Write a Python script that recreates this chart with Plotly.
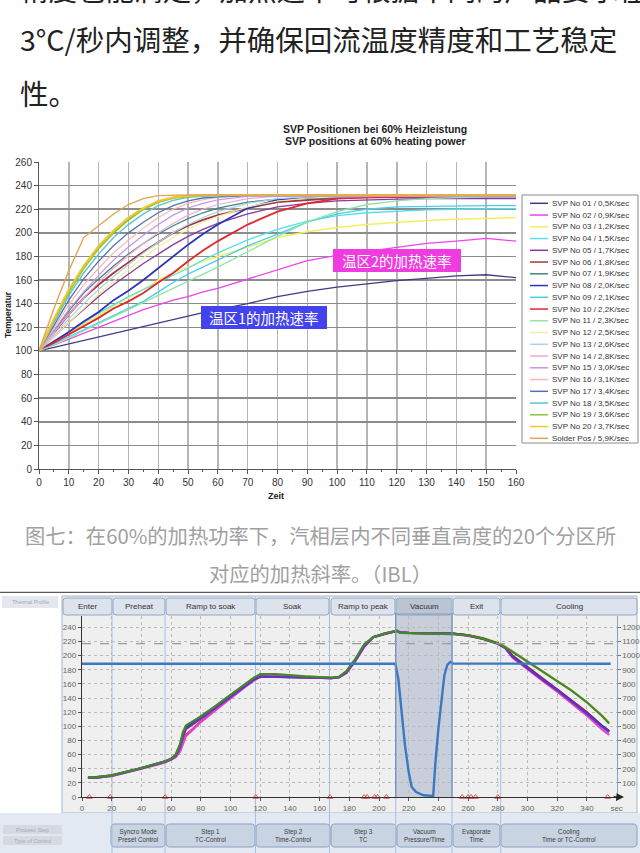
import plotly.graph_objects as go

W, H = 640, 853
def px(x): return x / W
def py(y): return 1 - y / H

# ---------------- top chart data ----------------
t_top = [0, 5, 10, 15, 20, 25, 30, 35, 40, 45, 50, 55, 60, 70, 80, 90, 100, 110, 120, 130, 140, 150, 160]
svp_names = ["SVP No 01 / 0,5K/sec", "SVP No 02 / 0,9K/sec", "SVP No 03 / 1,2K/sec", "SVP No 04 / 1,5K/sec",
             "SVP No 05 / 1,7K/sec", "SVP No 06 / 1,8K/sec", "SVP No 07 / 1,9K/sec", "SVP No 08 / 2,0K/sec",
             "SVP No 09 / 2,1K/sec", "SVP No 10 / 2,2K/sec", "SVP No 11 / 2,3K/sec", "SVP No 12 / 2,5K/sec",
             "SVP No 13 / 2,6K/sec", "SVP No 14 / 2,8K/sec", "SVP No 15 / 3,0K/sec", "SVP No 16 / 3,1K/sec",
             "SVP No 17 / 3,4K/sec", "SVP No 18 / 3,5K/sec", "SVP No 19 / 3,6K/sec", "SVP No 20 / 3,7K/sec",
             "Solder Pos / 5,9K/sec"]
svp_colors = ["#3d3d85", "#ee44ee", "#f2f060", "#55e0e8", "#8a3a9a", "#a33a3a", "#3f8585", "#2f33b8",
              "#49cdf0", "#e0262e", "#8fe6a8", "#f0eea0", "#a9d3f0", "#f2a8d8", "#c793ee", "#f3b9b2",
              "#5272b5", "#5cc6c8", "#93c43a", "#f0c632", "#e2a652"]
svp01 = [100, 103, 106, 109, 111.5, 114.5, 117.5, 121, 124, 127, 130, 132.5, 135, 140, 146, 150.5, 154, 157, 159.5, 161.5, 163.5, 164.5, 162]
svp02 = [100, 105, 110, 115, 120, 125, 130, 135, 139, 143, 146, 150, 153, 161, 169, 176.5, 181, 184.5, 188, 191, 193, 195.3, 193]
svp03 = [100, 108, 115, 123, 130, 138, 145, 152, 160, 166, 171, 176, 180, 188, 196, 201, 204.5, 207, 209, 210.5, 211.5, 212.5, 213]
svp04 = [100, 108, 116, 124, 132, 139, 146, 152, 158, 164, 170, 177, 183, 194, 203, 210, 214.5, 217, 218.5, 219.5, 220, 220.5, 220.5]
svp05 = [100, 112, 124, 135, 146, 156, 165, 174, 182, 190, 197, 203, 208, 216, 222, 225, 227, 228, 228.5, 229, 229, 229, 229]
svp06 = [100, 115, 131, 145, 156, 166, 175, 184, 192, 200, 206, 211, 215, 221, 226, 228, 229.5, 230, 230.5, 231, 231, 231, 231]
svp07 = [100, 117, 134, 149, 161, 172, 182, 191, 199, 206, 212, 217, 221, 226, 228.5, 229.5, 230, 230.5, 231, 231, 231, 231, 231]
svp08 = [100, 108, 116, 125, 133, 143, 151, 160, 170, 180, 190, 199, 207, 221, 228, 230, 230.5, 231, 231, 231, 231, 231, 231]
svp09 = [100, 106, 112, 118, 124, 130, 136, 142, 150, 158, 165, 171, 177, 189, 199, 209, 216, 220, 222, 222.5, 223, 223, 223]
svp10 = [100, 107, 114, 121, 128, 136, 142, 149, 158, 166, 176, 185, 193, 207, 218, 225, 229, 230, 230.5, 231, 231, 231, 231]
svp11 = [100, 105, 111, 117, 123, 129, 135, 141, 147, 153, 159, 165, 171, 184, 197, 209, 218, 224, 227, 229, 230, 230.5, 230.5]
svp12 = [100, 112, 124, 136, 148, 159, 169, 179, 188, 196, 203, 209, 214, 222, 227, 229.5, 230.5, 231, 231, 231, 231, 231, 231]
svp13 = [100, 114, 127, 140, 152, 163, 173, 183, 192, 200, 207, 213, 218, 225, 229, 230.5, 231, 231, 231, 231, 231, 231, 231]
svp14 = [100, 116, 131, 145, 158, 170, 181, 191, 200, 208, 215, 220, 224, 229, 231, 231, 231, 231, 231, 231, 231, 231, 231]
svp15 = [100, 118, 135, 150, 164, 177, 188, 198, 207, 215, 221, 225, 228, 231, 231.5, 231.5, 231.5, 231.5, 231.5, 231.5, 231.5, 231.5, 231.5]
svp16 = [100, 120, 139, 156, 170, 183, 194, 204, 213, 220, 225, 228, 230, 231.5, 231.5, 231.5, 231.5, 231.5, 231.5, 231.5, 231.5, 231.5, 231.5]
svp17 = [100, 122, 143, 161, 176, 189, 200, 209, 217, 223, 227, 229.5, 230.5, 231.5, 231.5, 231.5, 231.5, 231.5, 231.5, 231.5, 231.5, 231.5, 231.5]
svp18 = [100, 124, 147, 166, 182, 196, 207, 216, 223, 227.5, 230, 231, 231.5, 232, 232, 232, 232, 232, 232, 232, 232, 232, 232]
svp19 = [100, 126, 150, 170, 187, 200, 211, 220, 226, 229.5, 231, 232, 232, 232, 232, 232, 232, 232, 232, 232, 232, 232, 232]
svp20 = [100, 127, 152, 172, 189, 202, 213, 221, 227, 230, 231.5, 232, 232, 232, 232, 232, 232, 232, 232, 232, 232, 232, 232]
solder = [100, 136, 168, 196, 206, 216, 224, 229, 231.5, 232, 232, 232, 232, 232, 232, 232, 232, 232, 232, 232, 232, 232, 232]
svp_series = [svp01, svp02, svp03, svp04, svp05, svp06, svp07, svp08, svp09, svp10, svp11,
              svp12, svp13, svp14, svp15, svp16, svp17, svp18, svp19, svp20, solder]
svp_widths = [1.3, 1.3, 1.5, 1.3, 1.3, 1.8, 1.3, 1.8, 1.3, 1.8, 1.3, 1.2, 1.2, 1.2, 1.2, 1.2, 1.3, 1.4, 2.0, 2.0, 1.4]

# ---------------- bottom chart data ----------------
t_bot = [4, 10, 20, 30, 40, 50, 56, 60, 63, 66, 68, 70, 75, 80, 90, 100, 110, 116, 120, 130, 140, 150, 160, 168,
         173, 178, 184, 190, 196, 204, 212, 214, 220, 235, 250, 260, 270, 280, 285, 290, 300, 310, 320, 330, 340, 350, 355]
tc_red = [27, 27.5, 30, 35, 40.5, 46, 49.5, 53, 57, 66, 80, 88, 97, 107, 124, 141, 157, 166, 171, 171.5, 171, 170, 169, 168.5,
          169.5, 176, 193, 213, 226, 231, 235, 233, 232, 231.5, 231, 228.5, 224, 217, 211.5, 200, 184, 168, 153, 137, 120, 101, 93]
tc_yellow = [27, 28, 30.5, 35, 40.5, 46.5, 50, 53.5, 59, 72, 88, 99, 106, 113, 128, 144, 159, 168, 173, 173.5, 172, 170.5, 169.5, 169,
             170, 176, 192, 213, 226, 231.5, 235, 232.5, 232, 231.5, 231, 229, 225, 218, 213, 206, 193, 178, 164.5, 150, 134, 116, 105]
tc_navy = [27.5, 28, 30.5, 35.5, 41, 47, 50.5, 54, 59, 73, 89, 99, 106, 113, 128, 144, 159, 167, 170.5, 170, 169.5, 169, 168.5, 168,
           169.5, 177, 194, 214, 226, 231.5, 235, 233, 232, 231.5, 231, 228.5, 224, 217, 211, 199, 182.5, 167, 152, 135.5, 119, 101, 93]
tc_magenta = [27, 27.5, 29.5, 34.5, 40, 45.5, 49, 52.5, 56, 64, 76, 86, 96, 106, 123, 140, 156, 165, 170, 170.5, 170, 169, 168.5, 168,
              169, 175, 192, 212, 225.5, 231, 234.5, 233, 232, 231.5, 230.5, 228, 223.5, 216.5, 210.5, 197, 180.5, 164.5, 149, 132, 115, 96, 88]
tc_purple = [27, 27.5, 30, 35, 40.5, 46.5, 50, 53.5, 58, 70, 85, 96, 104, 111, 126, 142, 157, 166, 170, 170, 169.5, 169, 168.5, 168,
             169.5, 176, 193, 213, 226, 231, 235, 233, 232, 231.5, 231, 228.5, 224, 217, 211, 198, 181.5, 166, 151, 134.5, 118, 100, 92]
tc_green = [27.5, 28, 30.5, 35.5, 41, 47, 50.5, 54, 60, 75, 92, 101, 107, 114, 129, 145, 160, 169, 174, 174, 172, 170.5, 169.5, 169,
            170, 178, 195, 216, 226, 231, 235.5, 232, 231.5, 231, 230.5, 228.5, 224, 217, 212, 205, 191, 177, 164, 150, 134, 115, 104]
tc_series = [tc_red, tc_yellow, tc_navy, tc_magenta, tc_purple, tc_green]
tc_colors = ["#e33a3a", "#e9bb45", "#263c80", "#e046c8", "#6a30c2", "#3f8a2a"]

t_press = [0, 211, 213, 215, 217.5, 220, 222, 225, 230, 236.5, 238, 240, 242, 244, 246, 248, 250, 356]
pressure = [942, 942, 836, 601, 365, 177, 71, 35, 12, 7, 247, 483, 695, 860, 935, 955, 944, 942]

t_events = [5, 19, 56, 117, 167, 190, 192, 197, 199, 205, 256, 260, 262, 265, 280, 354]
ev_level = [0] * len(t_events)

phase_names = ["Enter", "Preheat", "Ramp to soak", "Soak", "Ramp to peak", "Vacuum", "Exit", "Cooling"]
phase_px = [(63, 112), (113, 165), (166, 255), (256, 329), (331, 395), (396, 452), (453, 500), (501, 637)]
step_names = ["Syncro Mode<br>Preset Control", "Step 1<br>TC-Control", "Step 2<br>Time-Control", "Step 3<br>TC",
              "Vacuum<br>Pressure/Time", "Evaporate<br>Time", "Cooling<br>Time or TC-Control"]
step_px = [(111, 165), (166, 255), (256, 330), (331, 396), (397, 452), (453, 500), (501, 637)]
boundary_px = [112, 165, 255.5, 329.5, 395.7, 452, 500.7]

fig = go.Figure()

for name, col, vals, wd in zip(svp_names, svp_colors, svp_series, svp_widths):
    fig.add_trace(go.Scatter(x=t_top, y=vals, mode="lines", name=name, xaxis="x", yaxis="y",
                             line=dict(color=col, width=wd), showlegend=False, hoverinfo="skip"))

fig.add_trace(go.Scatter(x=t_press, y=pressure, mode="lines", xaxis="x2", yaxis="y3",
                         line=dict(color="#3a78c2", width=2.4), showlegend=False))
for col, vals in zip(tc_colors, tc_series):
    fig.add_trace(go.Scatter(x=t_bot, y=vals, mode="lines", xaxis="x2", yaxis="y2",
                             line=dict(color=col, width=2.2), showlegend=False))
fig.add_trace(go.Scatter(x=t_events, y=ev_level, mode="markers", xaxis="x2", yaxis="y2", cliponaxis=False,
                         marker=dict(symbol="triangle-up-open", size=5, color="#e05050", line=dict(width=1)),
                         showlegend=False))

shapes = []
ann = []

def rect(x0, y0, x1, y1, fill, line=None, lw=1, layer="below"):
    shapes.append(dict(type="rect", xref="paper", yref="paper", x0=px(x0), x1=px(x1), y0=py(y1), y1=py(y0),
                       fillcolor=fill, line=dict(color=line or "rgba(0,0,0,0)", width=lw if line else 0), layer=layer))

def hline(x0, x1, y, color, lw=1, dash="solid", layer="above"):
    shapes.append(dict(type="line", xref="paper", yref="paper", x0=px(x0), x1=px(x1), y0=py(y), y1=py(y),
                       line=dict(color=color, width=lw, dash=dash), layer=layer))

def vline(x, y0, y1, color, lw=1, layer="above"):
    shapes.append(dict(type="line", xref="paper", yref="paper", x0=px(x), x1=px(x), y0=py(y0), y1=py(y1),
                       line=dict(color=color, width=lw), layer=layer))

def rrect(x0, y0, x1, y1, r, fill, line, lw=1, layer="below"):
    def P(x, y): return f"{px(x):.5f},{py(y):.5f}"
    path = ("M" + P(x0 + r, y0) + " L" + P(x1 - r, y0) + " Q" + P(x1, y0) + " " + P(x1, y0 + r) +
            " L" + P(x1, y1 - r) + " Q" + P(x1, y1) + " " + P(x1 - r, y1) + " L" + P(x0 + r, y1) +
            " Q" + P(x0, y1) + " " + P(x0, y1 - r) + " L" + P(x0, y0 + r) + " Q" + P(x0, y0) + " " + P(x0 + r, y0) + " Z")
    shapes.append(dict(type="path", xref="paper", yref="paper", path=path, fillcolor=fill,
                       line=dict(color=line, width=lw), layer=layer))

def text(x, y, s, size, color="#222", family="Liberation Sans", xa="center", ya="middle", angle=0):
    ann.append(dict(xref="paper", yref="paper", x=px(x), y=py(y), text=s, showarrow=False, xanchor=xa,
                    yanchor=ya, textangle=angle, font=dict(size=size, color=color, family=family)))

CJK = "Noto Sans CJK SC"
text(18, -12, "精度也能满足，加热速率可根据不同的产品要求在1～", 28.5, "#222", CJK, xa="left")
text(18, 38, "3°C/秒内调整，并确保回流温度精度和工艺稳定", 28.5, "#222", CJK, xa="left")
text(18, 92, "性。", 28.5, "#222", CJK, xa="left")

text(375, 129, "<b>SVP Positionen bei 60% Heizleistung</b>", 10.5)
text(375, 141, "<b>SVP positions at 60% heating power</b>", 10.5)
text(8, 315, "<b>Temperatur</b>", 8.5, angle=-90)
text(276, 496, "<b>Zeit</b>", 9)

rect(522, 195, 638, 443, "white", "#8a8a8a", 1, layer="above")
for i, (name, col) in enumerate(zip(svp_names, svp_colors)):
    yy = 203.3 + i * 11.75
    hline(530, 548, yy, col, 1.5)
    text(550, yy, name, 8, "#333", xa="left")

rect(333, 249, 461, 272, "#ef3be0", layer="above")
text(397, 260.5, "温区2的加热速率", 14.5, "white", CJK)
rect(201, 306, 327, 329, "#4343ee", layer="above")
text(264, 317.5, "温区1的加热速率", 14.5, "white", CJK)

text(320, 535, "图七：在60%的加热功率下，汽相层内不同垂直高度的20个分区所", 20.3, "#a0a0a0", CJK)
text(320, 573, "对应的加热斜率。（IBL）", 20.3, "#a0a0a0", CJK)

hline(0, 640, 592.5, "#5a5a5a", 1.5, layer="below")
rect(0, 593, 640, 853, "#ffffff", layer="below")
rect(2, 596, 58, 608, "#e4e8ee", layer="below")
text(30, 602, "Thermal Profile", 5.5, "#a0a8b4")
rect(62, 596, 637, 813, "#eceef1", "#a7b6ca", 1)
rect(64, 616, 636, 812, "#efefef")
rect(0, 813, 640, 853, "#e2e9f2")
rect(3, 825, 62, 834, "#d5dae2")
rect(3, 836, 62, 845, "#d5dae2")
text(32, 829.5, "Process Step", 5.5, "#a3aab5")
text(32, 840.5, "Type of Control", 5.5, "#a3aab5")
for (a, b), nm in zip(phase_px, phase_names):
    fill = "#bac4d2" if nm == "Vacuum" else "#dde3ec"
    rrect(a, 598, b, 615, 3, fill, "#94a8c4", 1)
    text((a + b) / 2, 606.5, nm, 8, "#333")
for (a, b), nm in zip(step_px, step_names):
    rrect(a, 824, b, 847, 4, "#c9d4e3", "#8ca1bf", 1)
    text((a + b) / 2, 835.5, nm, 6.3, "#3a3a3a")
rect(395.7, 613, 452, 797, "rgba(120,142,175,0.33)", layer="below")
for bx in boundary_px:
    vline(bx, 597, 853, "#a8c0de", 1, layer="below")
vline(395.7, 613, 797, "#7590b8", 1.3)
vline(452, 613, 797, "#7590b8", 1.3)
hline(82, 617, 643.7, "#9a9a9a", 1.3, dash="dash")
ann.append(dict(xref="paper", yref="paper", x=px(624), y=py(797), ax=-12, ay=0, showarrow=True,
                arrowhead=2, arrowsize=1, arrowwidth=1.5, arrowcolor="#222", text=""))

fig.update_layout(
    width=W, height=H, autosize=False, margin=dict(l=0, r=0, t=0, b=0, pad=0, autoexpand=False),
    paper_bgcolor="white", plot_bgcolor="rgba(0,0,0,0)", showlegend=False, hovermode=False,
    shapes=shapes, annotations=ann,
    xaxis=dict(domain=[px(39), px(516)], range=[0, 160], dtick=10, tick0=0, anchor="y", automargin=False,
               showgrid=True, gridcolor="#b5b5b5", gridwidth=1.5, zeroline=False,
               showline=True, linecolor="#555", linewidth=1, ticks="outside", ticklen=4, tickcolor="#555",
               minor=dict(dtick=5, ticks="outside", ticklen=2, tickcolor="#555", showgrid=False),
               tickfont=dict(size=10, color="#333", family="Liberation Sans"), fixedrange=True),
    yaxis=dict(domain=[py(469), py(162)], range=[0, 260], dtick=20, tick0=0, anchor="x", automargin=False,
               showgrid=True, gridcolor="#8c8c8c", gridwidth=1.5, zeroline=False,
               showline=True, linecolor="#555", linewidth=1, ticks="outside", ticklen=4, tickcolor="#555",
               tickfont=dict(size=10, color="#333", family="Liberation Sans"), fixedrange=True),
    xaxis2=dict(domain=[px(82), px(616.6)], range=[0, 360], anchor="y2", automargin=False,
                tickvals=list(range(0, 360, 20)) + [360],
                ticktext=[str(v) for v in range(0, 360, 20)] + ["sec"],
                showgrid=True, gridcolor="#b9b9b9", griddash="dot", gridwidth=1, zeroline=False,
                showline=True, linecolor="#333", linewidth=1.2, ticks="outside", ticklen=3, tickcolor="#555",
                tickfont=dict(size=8, color="#666", family="Liberation Sans")),
    yaxis2=dict(domain=[py(797), py(616)], range=[0, 256], anchor="x2", dtick=20, tick0=0, automargin=False,
                showgrid=True, gridcolor="#b9b9b9", griddash="dot", gridwidth=1, zeroline=False,
                showline=True, linecolor="#333", linewidth=1.2, ticks="outside", ticklen=3, tickcolor="#555",
                tickfont=dict(size=8, color="#666", family="Liberation Sans")),
    yaxis3=dict(domain=[py(797), py(616)], range=[0, 1280], anchor="x2", overlaying="y2", side="right",
                automargin=False, tickvals=list(range(100, 1300, 100)), showgrid=False, zeroline=False,
                showline=True, linecolor="#8aa0c0", linewidth=1, ticks="outside", ticklen=3, tickcolor="#777",
                tickfont=dict(size=8, color="#666", family="Liberation Sans")),
)

# remove the browser's default 8px page margin so the figure fills the window exactly
fig.write_html("out.html", config={"displayModeBar": False, "staticPlot": True},
               post_script="document.body.style.margin='0px';")
